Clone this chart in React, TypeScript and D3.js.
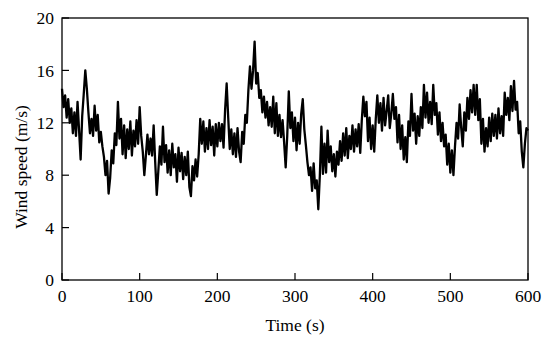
import React from "react";
import * as d3 from "d3";

const windSpeed = [
  14.6, 13.2, 14.1, 12.4, 13.8, 12.0, 13.1, 11.2, 12.8, 11.0,
  13.6, 11.4, 9.2, 12.5, 14.2, 16.0, 14.6, 12.8, 11.2, 12.3,
  11.0, 13.3, 11.4, 12.6, 10.5, 11.3, 10.2, 9.4, 8.0, 9.1,
  6.6, 7.8, 9.9, 8.9, 11.2, 10.3, 13.6, 10.8, 12.3, 9.6,
  11.8, 9.3, 11.5, 10.0, 12.1, 9.5, 11.4, 10.2, 12.2, 10.4,
  13.2, 11.0, 9.8, 8.0, 9.5, 11.1, 9.6, 10.8, 9.5, 11.8,
  9.0, 6.5, 8.3, 10.2, 8.8, 11.7, 9.0, 10.3, 8.2, 9.9,
  8.0, 10.4, 8.6, 9.6, 7.5, 10.1, 8.3, 9.7, 7.7, 9.4,
  8.0, 9.8, 7.1, 6.4, 8.7, 7.6, 9.2, 7.9, 9.6, 12.3,
  10.4, 12.1, 9.8, 11.6, 10.0, 12.2, 10.3, 11.7, 9.5, 11.9,
  10.2, 12.0, 10.6, 11.9, 10.1, 13.0, 15.0, 12.4, 10.0, 11.5,
  9.6, 11.2, 9.4, 11.6, 9.8, 9.0, 11.3, 10.4, 12.6, 12.0,
  14.5, 16.3, 14.6, 16.0, 18.2, 15.0, 15.8, 13.9, 14.5, 12.8,
  14.0, 12.4, 13.6, 11.8, 13.2, 11.7, 14.0, 11.2, 13.5, 11.0,
  12.6, 10.9, 12.2, 10.5, 8.6, 11.0, 14.4, 11.6, 12.8, 10.6,
  12.4, 9.9, 12.0, 10.4, 12.7, 13.8, 11.5, 10.3, 9.0, 8.0,
  8.6, 6.8, 8.9, 7.0, 7.6, 5.4, 8.0, 11.7, 8.1, 10.4,
  8.2, 11.4, 9.0, 10.2, 8.3, 9.6, 7.9, 9.8, 8.8, 10.6,
  9.1, 11.2, 9.5, 11.6, 9.3, 11.0, 10.0, 11.8, 9.8, 11.5,
  10.2, 11.9, 9.7, 12.2, 14.0, 12.5, 13.6, 10.6, 12.4, 10.0,
  11.8, 9.8, 12.3, 14.1, 12.0, 13.5, 11.4, 13.9, 11.8, 12.9,
  14.1, 11.6, 12.7, 14.2, 12.3, 13.2, 10.5, 12.6, 10.0, 11.8,
  9.2, 10.9, 9.0, 12.1, 11.0, 14.2, 11.4, 12.7, 10.4, 12.5,
  11.0, 13.2, 11.6, 14.9, 12.4, 14.3, 12.0, 13.6, 11.9, 14.9,
  12.6, 13.5, 11.1, 12.8, 10.6, 12.0, 10.2, 11.1, 8.8, 10.4,
  8.2, 9.9, 8.0, 10.2, 12.0, 10.8, 13.4, 11.6, 10.2, 12.8,
  11.4, 13.9, 12.3, 14.5, 12.8, 14.9, 12.6, 14.9, 12.2, 13.8,
  10.4, 12.3, 9.8, 11.6, 10.2, 12.4, 10.6, 12.7, 11.0, 12.6,
  10.8, 13.1, 11.2, 12.5, 11.0, 14.3, 12.6, 13.9, 12.2, 14.8,
  12.9, 15.2, 13.0, 13.6, 11.2, 12.1, 9.8, 8.6, 10.4, 11.6,
  11.4,
];
const sampleStep = 2;
const xTicks = [0, 100, 200, 300, 400, 500, 600];
const yTicks = [0, 4, 8, 12, 16, 20];

const W = 550;
const H = 342;
const margin = { top: 18, right: 22, bottom: 62, left: 62 };
const font = "'Liberation Serif', 'Times New Roman', serif";
const fs = 17.5;

export default function App() {
  const x = d3.scaleLinear().domain([0, 600]).range([margin.left, W - margin.right]);
  const y = d3.scaleLinear().domain([0, 20]).range([H - margin.bottom, margin.top]);

  const line = d3
    .line<number>()
    .x((d, i) => x(i * sampleStep))
    .y((d) => y(d));

  const x0 = x.range()[0],
    x1 = x.range()[1],
    y0 = y.range()[0],
    y1 = y.range()[1];
  const tick = 7;

  return (
    <svg
      width={W}
      height={H}
      style={{ position: "absolute", left: 0, top: 0, background: "#fff" }}
    >
      <path d={line(windSpeed) || ""} fill="none" stroke="#000" strokeWidth={2.3} strokeLinejoin="round" />

      {/* frame */}
      <rect x={x0} y={y1} width={x1 - x0} height={y0 - y1} fill="none" stroke="#000" strokeWidth={1.3} />

      {xTicks.map((t) => (
        <g key={"x" + t}>
          <line x1={x(t)} x2={x(t)} y1={y0} y2={y0 - tick} stroke="#000" strokeWidth={1.2} />
          <text x={x(t)} y={y0 + 22} textAnchor="middle" fontFamily={font} fontSize={fs} fill="#000">
            {t}
          </text>
        </g>
      ))}

      {yTicks.map((t) => (
        <g key={"y" + t}>
          <line x1={x0} x2={x0 + tick} y1={y(t)} y2={y(t)} stroke="#000" strokeWidth={1.2} />
          <text x={x0 - 8} y={y(t)} dy="0.35em" textAnchor="end" fontFamily={font} fontSize={fs} fill="#000">
            {t}
          </text>
        </g>
      ))}

      <text x={(x0 + x1) / 2} y={y0 + 51} textAnchor="middle" fontFamily={font} fontSize={fs} fill="#000">
        Time (s)
      </text>
      <text
        transform={`translate(27,${(y0 + y1) / 2 + 18}) rotate(-90)`}
        textAnchor="middle"
        fontFamily={font}
        fontSize={fs}
        fill="#000"
      >
        Wind speed (m/s)
      </text>
    </svg>
  );
}
